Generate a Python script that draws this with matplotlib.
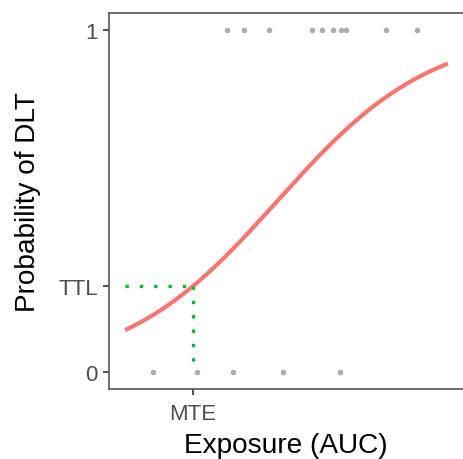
import numpy as np
import matplotlib
matplotlib.use("Agg")
import matplotlib.pyplot as plt

# ---- data (exposure in arbitrary AUC units) ----
dlt0_exposure = [8.7, 22.3, 33.4, 48.9, 66.6]
dlt1_exposure = [31.5, 36.8, 44.6, 57.8, 60.9, 64.3, 66.9, 68.3, 80.7, 90.3]
curve_range = [0.0, 100.0]
logit_intercept = -1.974
logit_slope = 0.0418
ttl = 0.25
mte = 21.0
y_ticks = [0, ttl, 1]
y_ticklabels = ["0", "TTL", "1"]
x_ticks = [mte]
x_ticklabels = ["MTE"]

plt.rcParams['font.family'] = ['Liberation Sans', 'DejaVu Sans']

W, H = 463, 460
fig = plt.figure(figsize=(W / 100, H / 100), dpi=100)
ax = fig.add_axes([109 / W, (H - 390) / H, (464 - 109) / W, (390 - 13.5) / H])

xs = np.linspace(curve_range[0], curve_range[1], 300)
p = 1 / (1 + np.exp(-(logit_intercept + logit_slope * xs)))

grey = '#ABABAB'
ax.plot(dlt0_exposure, np.zeros(len(dlt0_exposure)), 'o', color=grey, ms=4.0, mec='none', zorder=2)
ax.plot(dlt1_exposure, np.ones(len(dlt1_exposure)), 'o', color=grey, ms=4.0, mec='none', zorder=2)

ax.plot(xs, p, color='#F8766D', lw=3.0, solid_capstyle='butt', zorder=3)

green = '#00BA38'
ax.plot([curve_range[0], mte], [ttl, ttl], color=green, lw=2.4,
        linestyle=(0, (1.0, 3.3)), dash_capstyle='butt', zorder=4)
ax.plot([mte, mte], [ttl, 0], color=green, lw=2.4,
        linestyle=(0, (1.0, 3.3)), dash_capstyle='butt', zorder=4)

ax.set_xlim(-5, 105)
ax.set_ylim(-0.05, 1.05)
ax.set_xticks(x_ticks)
ax.set_xticklabels(x_ticklabels)
ax.set_yticks(y_ticks)
ax.set_yticklabels(y_ticklabels)

spine_color = '#555555'
for s in ax.spines.values():
    s.set_color(spine_color)
    s.set_linewidth(1.2)
ax.spines['right'].set_visible(False)

ax.tick_params(axis='both', length=4, width=1.2, color='#333333',
               labelsize=16, labelcolor='#4D4D4D')
ax.tick_params(axis='y', pad=4)
ax.tick_params(axis='x', pad=6)

fig.text(286 / W, (H - 453) / H, "Exposure (AUC)", ha='center', va='baseline',
         fontsize=20.2, color='black')
fig.text(28 / W, (H - 202) / H, "Probability of DLT", ha='center', va='center',
         rotation=90, fontsize=20.2, color='black')

fig.savefig("out.png", dpi=100)
